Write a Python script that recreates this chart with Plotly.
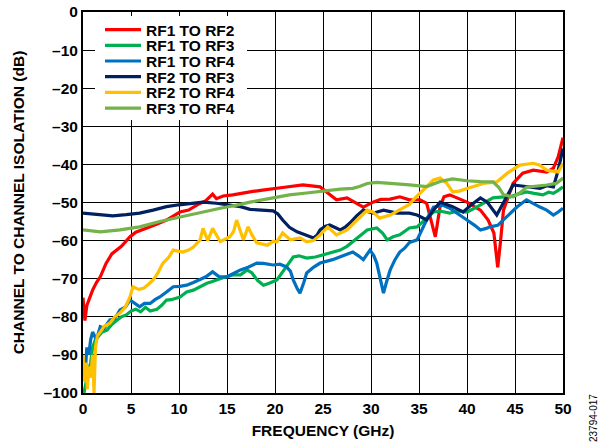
import plotly.graph_objects as go

# ---------------- data ----------------
red_f = [0, 0.2, 0.4, 0.7, 1.0, 1.4, 1.8, 2.4, 3.0, 4.0, 4.9, 5.5, 6.6, 7.6, 8.7, 10.1, 11.0, 11.9, 12.8, 13.5, 13.9, 14.6, 15.6, 16.4, 17.4, 18.5, 19.8, 21.0, 22.9, 24.7, 25.5, 26.4, 27.5, 28.3, 29.2, 30.2, 31.0, 32.0, 33.0, 34.0, 35.1, 35.8, 36.2, 36.7, 37.2, 37.6, 38.2, 39.0, 40.0, 41.4, 42.2, 42.8, 43.2, 43.5, 43.8, 44.8, 45.8, 46.9, 48.3, 49.0, 49.5, 50.0]
red_db = [-75, -81, -77, -75, -73, -71, -69.5, -66, -63.5, -61.5, -59, -57.8, -56.8, -55.8, -54.6, -52.5, -52, -50.6, -49.5, -47.8, -49, -48.3, -48, -47.6, -47.2, -46.8, -46.3, -46, -45.4, -45.9, -47.5, -49.3, -48.8, -50, -51.2, -49.9, -49.2, -49.1, -48.5, -49.3, -49.3, -50.2, -54, -59, -51, -48.5, -48, -48.8, -49.9, -52, -54.6, -58, -67, -60, -52, -45, -42.3, -41.5, -42, -41, -38, -33]

grn_f = [0.1, 0.3, 0.5, 0.8, 1.0, 1.3, 1.6, 2.0, 2.5, 3.0, 3.5, 4.0, 4.5, 5.0, 5.5, 6.0, 6.5, 7.0, 7.7, 8.2, 8.7, 9.2, 10.1, 10.8, 11.5, 12.2, 12.9, 13.4, 13.9, 14.5, 15.6, 16.4, 17.1, 17.6, 18.2, 18.8, 19.4, 20.2, 21.0, 21.9, 22.5, 23.3, 24.2, 25.0, 26.0, 26.8, 27.5, 28.1, 29.0, 29.6, 30.6, 31.2, 31.7, 32.3, 33.0, 34.0, 34.8, 35.6, 36.5, 37.3, 38.2, 39.0, 40.0, 41.0, 41.7, 42.7, 43.5, 44.5, 45.3, 46.2, 47.0, 47.9, 48.5, 49.0, 49.5, 50.0]
grn_db = [-100, -97, -95, -92, -88, -86, -85, -84, -83.5, -82, -81, -80, -79.5, -78.5, -78, -78.7, -77.5, -78.5, -78, -77, -75.6, -75.5, -74.8, -73.5, -73, -72, -71.2, -70.8, -70.3, -69.8, -69, -69, -67.7, -68.5, -70.5, -71.7, -71.2, -70.3, -67.5, -64.3, -64, -64.6, -64.3, -63.8, -63, -62.5, -61.5, -60.3, -58.5, -57.2, -56.7, -58, -59.8, -59, -58.5, -56.7, -56.4, -54.5, -52.5, -52.3, -52.8, -52.2, -52.5, -51.2, -50.2, -48.8, -48.6, -48.5, -47.8, -47.2, -47.6, -48, -47.3, -47.6, -46.8, -45.9]

blu_f = [0.2, 0.4, 0.6, 0.8, 1.0, 1.4, 1.8, 2.2, 2.8, 3.3, 3.85, 4.4, 4.9, 5.4, 5.9, 6.4, 7.0, 7.5, 8.0, 8.7, 9.4, 10.1, 10.8, 11.5, 12.2, 12.8, 13.5, 14.2, 15.0, 15.7, 16.4, 17.2, 18.1, 18.8, 19.8, 20.5, 21.2, 21.6, 21.9, 22.3, 22.6, 23.0, 23.3, 24.0, 24.7, 26.0, 27.0, 28.1, 28.7, 29.2, 29.9, 30.3, 30.6, 31.0, 31.3, 31.6, 32.0, 32.5, 33.0, 33.5, 34.0, 34.8, 35.5, 36.0, 36.5, 37.5, 38.2, 38.9, 40.0, 40.8, 41.4, 42.0, 42.4, 43.2, 43.8, 44.5, 45.2, 46.2, 47.0, 47.6, 48.3, 49.0, 49.5, 50.0]
blu_db = [-96, -88, -90, -86, -84, -86, -82.6, -83, -80.8, -80.5, -78.2, -77.5, -75.6, -76.5, -77.4, -76.5, -76.5, -75.5, -74.8, -73.5, -72.1, -72, -71.7, -71, -70.3, -69.5, -68.2, -69.5, -69.5, -68.5, -67.7, -67, -65.9, -66, -66.4, -66.2, -66.9, -68, -70.3, -72.5, -73.8, -71, -68.5, -67, -65.9, -65, -64, -63, -64, -65, -62.5, -64, -65.9, -70, -73.8, -71, -67.7, -65, -63, -62, -60.5, -59.8, -56, -53.5, -51.2, -50.7, -51.5, -52.8, -54.6, -56, -57.2, -56.8, -56.4, -56, -54.6, -53, -51.2, -49.3, -50.5, -51.2, -52, -53.3, -52.5, -51.5]

nav_f = [0, 1.5, 3.1, 4.5, 5.9, 7.3, 8.7, 10.0, 10.8, 12.5, 13.9, 15.6, 16.4, 17.4, 18.5, 19.8, 20.3, 20.8, 21.5, 22.3, 23.2, 24.0, 24.4, 24.7, 25.2, 25.7, 26.2, 26.8, 27.3, 27.8, 28.5, 29.2, 30.2, 31.3, 32.0, 32.7, 34.0, 34.8, 35.8, 36.5, 37.2, 38.5, 39.6, 40.5, 41.4, 42.1, 43.1, 43.8, 44.8, 45.5, 46.2, 47.6, 48.3, 49.0, 49.5, 50.0]
nav_db = [-52.8, -53.2, -53.5, -53.2, -52.8, -52, -51.1, -50.6, -50.4, -49.9, -50.2, -50.7, -51.1, -51.8, -52, -52.2, -53, -54.6, -56.5, -57.7, -58.5, -59.3, -58.5, -57.2, -56.3, -55.9, -56.5, -57.2, -56.5, -55.4, -53.5, -52, -52.8, -52, -52.4, -52.8, -52.8, -53.3, -54.6, -52, -49.9, -51.1, -52.5, -50.5, -48.8, -49.9, -53.3, -50, -45.4, -45.6, -45.9, -46.3, -45.6, -45.9, -41.5, -35.8]

yel_f = [0, 0.15, 0.3, 0.45, 0.6, 0.8, 1.0, 1.15, 1.3, 1.5, 1.8, 2.2, 2.8, 3.3, 3.85, 4.4, 4.9, 5.2, 5.8, 6.3, 6.8, 7.3, 7.8, 8.3, 8.9, 9.4, 10.4, 11.0, 11.5, 12.2, 12.5, 13.0, 13.5, 14.3, 15.3, 15.7, 16.0, 16.3, 16.7, 17.2, 17.6, 18.1, 19.2, 19.8, 20.2, 20.8, 21.6, 22.6, 23.3, 24.0, 24.7, 25.5, 26.4, 27.5, 28.5, 29.6, 30.2, 30.9, 32.0, 33.0, 34.0, 34.4, 35.4, 36.5, 37.2, 37.9, 38.5, 39.2, 40.0, 41.0, 41.7, 43.1, 44.2, 45.5, 46.9, 47.6, 48.3, 49.5, 50.0]
yel_db = [-90, -97, -92, -99, -93, -96, -90, -100, -88, -85, -84, -82.5, -81.7, -80, -79, -77.5, -74.8, -72.1, -72.8, -72.5, -71.5, -70.3, -68.5, -66, -64.5, -62.5, -63, -62.5, -61.7, -59.8, -56.8, -60, -56.8, -60.3, -59, -57.5, -54.6, -57, -59.8, -56.4, -58.5, -60.6, -61.2, -60.2, -60.3, -58, -59.8, -59.3, -60.3, -60, -58.5, -56.4, -58.5, -57.2, -54.6, -52, -52.5, -54.1, -53.3, -52, -50.5, -49.3, -46.7, -44.1, -43.6, -45, -47.2, -47, -46.3, -45.5, -45, -44.6, -42.3, -40.2, -39.7, -40.2, -41.5, -42, -39.7]

lgr_f = [0, 1.8, 3.85, 5.9, 8.0, 10.1, 12.2, 14.3, 16.0, 17.4, 19.8, 21.5, 23.3, 25.0, 26.8, 28.1, 28.8, 29.6, 30.6, 32.0, 33.0, 34.0, 35.8, 37.2, 38.5, 40.0, 41.4, 42.7, 43.3, 43.8, 44.8, 45.5, 46.2, 47.2, 48.3, 49.3, 50.0]
lgr_db = [-57.2, -57.7, -57.2, -56.4, -55, -53.8, -52.5, -51.5, -50.7, -49.9, -48.8, -48, -47.5, -47, -46.5, -46.3, -45.8, -45, -44.7, -45, -45.1, -45.4, -45.8, -44.5, -43.8, -44.3, -44.5, -44.6, -46, -48, -48.5, -47.5, -46, -45.8, -45.4, -45, -43.6]

series_names = ["RF1 TO RF2", "RF1 TO RF3", "RF1 TO RF4", "RF2 TO RF3", "RF2 TO RF4", "RF3 TO RF4"]
series_f = [red_f, grn_f, blu_f, nav_f, yel_f, lgr_f]
series_db = [red_db, grn_db, blu_db, nav_db, yel_db, lgr_db]
series_colors = ["#FF0000", "#00B050", "#0070C0", "#002060", "#FFC000", "#74B24A"]

x_ticks = [0, 5, 10, 15, 20, 25, 30, 35, 40, 45, 50]
y_ticks = [0, -10, -20, -30, -40, -50, -60, -70, -80, -90, -100]
y_ticklabels = ["0" if v == 0 else "–" + str(-v) for v in y_ticks]

# ---------------- layout constants ----------------
W, H = 605, 448
ML, MR, MT, MB = 83, 42, 12, 55
PW, PH = W - ML - MR, H - MT - MB
FONT = "Liberation Sans, Arial, sans-serif"
FS = 15.5
LFS = 15.5

fig = go.Figure()
legend_ids = ["legend", "legend2", "legend3", "legend4", "legend5", "legend6"]
for name, fx, fy, col, lid in zip(series_names, series_f, series_db, series_colors, legend_ids):
    fig.add_trace(go.Scatter(x=fx, y=fy, mode="lines", name=name, legend=lid,
                             line=dict(color=col, width=3.2)))

# one legend per entry so that the rows sit ~15.7 px apart as in the reference
legend_layout = {}
row_px0, row_step = 30.0, 15.7
for i, lid in enumerate(legend_ids):
    ypx = row_px0 + i * row_step
    legend_layout[lid] = dict(
        x=(100 - ML) / PW, y=(MT + PH - ypx) / PH, xanchor="left", yanchor="middle",
        bgcolor="rgba(0,0,0,0)", borderwidth=0, itemwidth=36,
        font=dict(family=FONT, size=LFS, color="black", weight="bold"))

fig.update_layout(
    width=W, height=H,
    margin=dict(l=ML, r=MR, t=MT, b=MB, autoexpand=False),
    paper_bgcolor="white", plot_bgcolor="white",
    font=dict(family=FONT, size=FS, color="black", weight="bold"),
    showlegend=True,
    **legend_layout,
)

# white backing box of the legend (hides the grid behind it)
fig.add_shape(type="rect", xref="paper", yref="paper", layer="above",
              x0=(95 - ML) / PW, x1=(247 - ML) / PW,
              y0=(MT + PH - 120) / PH, y1=(MT + PH - 16) / PH,
              fillcolor="white", line=dict(width=0))

fig.update_xaxes(range=[0, 50], tickvals=x_ticks, ticktext=[str(v) for v in x_ticks],
                 showgrid=True, gridcolor="black", gridwidth=1.2,
                 showline=True, linecolor="black", linewidth=2, mirror=True,
                 ticks="", zeroline=False, automargin=False,
                 tickfont=dict(family=FONT, size=FS, weight="bold"),
                 title=dict(text="FREQUENCY (GHz)", standoff=10,
                            font=dict(family=FONT, size=FS, weight="bold")))
fig.update_yaxes(range=[-100, 0], tickvals=y_ticks, ticktext=y_ticklabels,
                 showgrid=True, gridcolor="black", gridwidth=1.2,
                 showline=True, linecolor="black", linewidth=2, mirror=True,
                 ticks="", zeroline=False, automargin=False,
                 tickfont=dict(family=FONT, size=FS, weight="bold"),
                 title=dict(text="CHANNEL TO CHANNEL ISOLATION (dB)", standoff=15,
                            font=dict(family=FONT, size=FS, weight="bold")))

fig.add_annotation(text="23794-017", xref="paper", yref="paper",
                   x=(593 - ML) / PW, y=(MT + PH - 392) / PH, xanchor="center", yanchor="top",
                   textangle=-90, showarrow=False,
                   font=dict(family=FONT, size=10, color="black", weight="normal"))

fig.write_html("out.html", config={"displayModeBar": False},
               post_script="document.body.style.margin='0';document.body.style.overflow='hidden';")
